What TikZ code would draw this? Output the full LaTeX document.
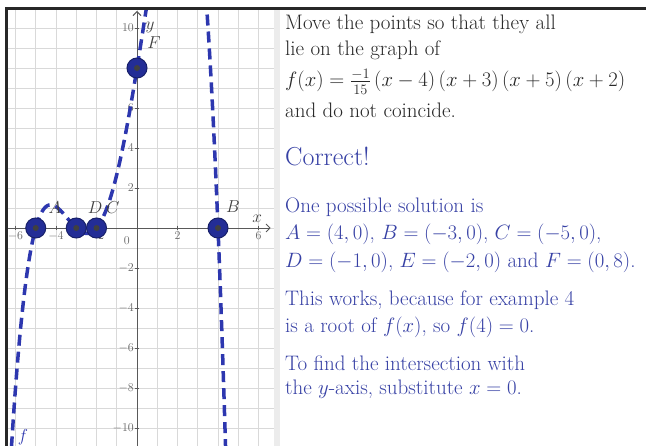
\documentclass[tikz,border=0pt]{standalone}
\usepackage{amsmath}
\usetikzlibrary{arrows.meta}

\definecolor{curveblue}{RGB}{45,55,175}
\definecolor{ptblue}{RGB}{35,45,150}
\definecolor{txtblue}{RGB}{55,65,165}
\definecolor{txtgray}{RGB}{40,40,40}
\definecolor{framegray}{RGB}{40,40,40}

\tikzset{
    gridline/.style={gray!30, line width=0.8pt},
    axisline/.style={black!65, line width=0.9pt},
    ticklbl/.style={black!60, inner sep=1pt, font=\fontsize{12}{13}\selectfont},
    ptlbl/.style={black!75, inner sep=0pt, font=\fontsize{19}{21}\selectfont},
    curve/.style={curveblue, line width=3.5pt, dash pattern=on 11pt off 6pt},
    pt/.style={circle, fill=ptblue, draw=ptblue!70!black, line width=1pt,
        minimum size=20pt, inner sep=0pt,
        path picture={\fill[black!75] (path picture bounding box.center) circle (3pt);}},
    txtline/.style={anchor=base west, inner sep=0pt, font=\fontsize{21}{24}\selectfont},
}

\begin{document}
\begin{tikzpicture}[x=1pt, y=-1pt]
    \useasboundingbox (0,0) rectangle (646,446);
    \fill[white] (0,0) rectangle (646,446);

    % graph panel, one unit is about 20px
    \begin{scope}[shift={(137pt,-228pt)}, x=20.25pt, y=20pt]
        \clip (-6.45,-10.95) rectangle (6.77,10.95);
        \foreach \k in {-7,...,7}
            \draw[gridline] (\k,-11) -- (\k,11);
        \foreach \k in {-11,...,11}
            \draw[gridline] (-7,\k) -- (7,\k);

        % axes
        \draw[axisline, -{Straight Barb[length=4pt]}] (-6.45,0) -- (6.6,0);
        \draw[axisline, -{Straight Barb[length=4pt]}] (0,-10.95) -- (0,10.85);
        \foreach \k in {-6,-4,-2,2,4,6} {
            \draw[axisline] (\k,0.12) -- (\k,-0.12);
            \node[ticklbl, below] at (\k,-0.15) {$\k$};
        }
        \foreach \k in {-10,-8,-6,-4,-2,2,4,6,8,10} {
            \draw[axisline] (-0.12,\k) -- (0.12,\k);
            \node[ticklbl, left] at (-0.1,\k) {$\k$};
        }
        \node[ticklbl] at (-0.5,-0.65) {$0$};
        \node[ptlbl] (xlbl) at (5.93,0.45) {$x$};
        \node[ptlbl] (ylbl) at (0.64,10.05) {$y$};

        % f(x) = -1/15 (x-4)(x+3)(x+5)(x+2)
        \draw[curve] plot[domain=-6.3:4.45, samples=300, smooth]
            (\x, {-(\x-4)*(\x+3)*(\x+5)*(\x+2)/15});
        \node[curveblue, inner sep=0pt, font=\fontsize{19}{21}\selectfont] (flbl) at (-5.63,-10.45) {$f$};

        % the points
        \node[pt] (P1) at (-5,0) {};
        \node[pt] (P2) at (-3,0) {};
        \node[pt] (P3) at (-2,0) {};
        \node[pt] (P4) at (4,0) {};
        \node[pt] (P5) at (0,8) {};

        \node[ptlbl] (Albl) at (-4.05,1.0) {$A$};
        \node[ptlbl] (Dlbl) at (-2.07,1.0) {$D$};
        \node[ptlbl] (Clbl) at (-1.19,1.0) {$C$};
        \node[ptlbl] (Blbl) at (4.74,1.05) {$B$};
        \node[ptlbl] (Flbl) at (0.84,9.25) {$F$};
    \end{scope}

    % separator and frame
    \fill[gray!15] (274,10) rectangle (280,446);
    \draw[framegray, line width=3pt] (6,446) -- (6,9) -- (646,9);

    % task text
    \begin{scope}[txtgray]
        \node[txtline] (t1) at (285,30) {Move the points so that they all};
        \node[txtline] (t2) at (285,56) {lie on the graph of};
        \node[txtline] (t3) at (285,87) {$f(x)=\tfrac{-1}{15}\,(x-4)\,(x+3)\,(x+5)\,(x+2)$};
        \node[txtline] (t4) at (285,118) {and do not coincide.};
    \end{scope}

    % feedback
    \begin{scope}[txtblue]
        \node[txtline, font=\fontsize{26}{30}\selectfont] (c1) at (285,166) {Correct!};
        \node[txtline] (s1) at (285,213) {One possible solution is};
        \node[txtline] (s2) at (285,240) {$A=(4,0)$, $B=(-3,0)$, $C=(-5,0)$,};
        \node[txtline] (s3) at (285,268) {$D=(-1,0)$, $E=(-2,0)$ and $F=(0,8)$.};
        \node[txtline] (w1) at (285,306) {This works, because for example 4};
        \node[txtline] (w2) at (285,333) {is a root of $f(x)$, so $f(4)=0$.};
        \node[txtline] (r1) at (285,371) {To find the intersection with};
        \node[txtline] (r2) at (285,395) {the $y$-axis, substitute $x=0$.};
    \end{scope}
\end{tikzpicture}
\end{document}
